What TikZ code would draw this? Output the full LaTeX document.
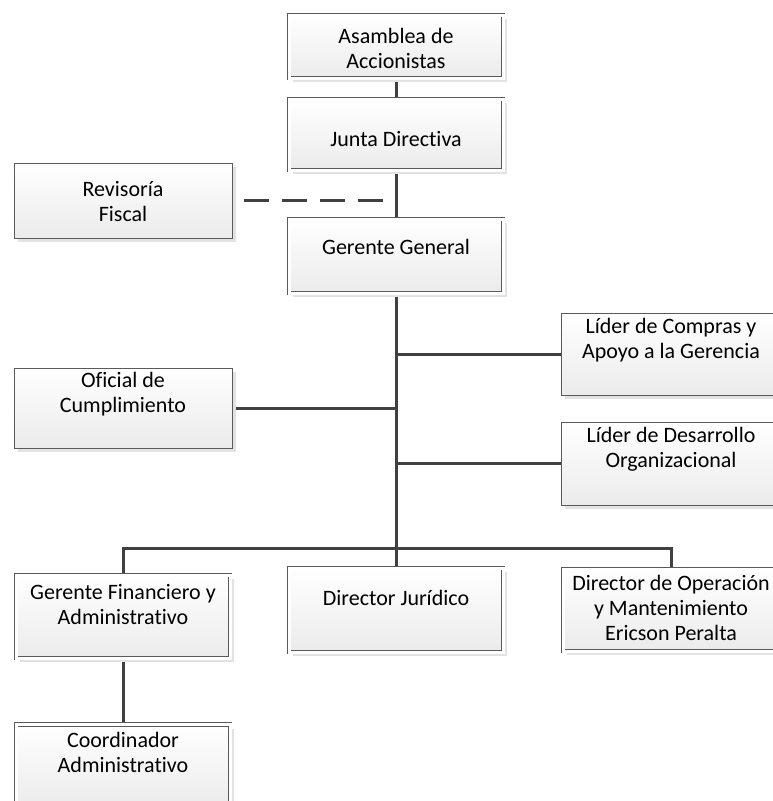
\documentclass[tikz,border=0pt]{standalone}
\usepackage{fontspec}
\setmainfont{Carlito}[Ligatures={NoCommon}]
\usetikzlibrary{positioning, shadows, backgrounds}
\definecolor{conn}{HTML}{404040}
\definecolor{rim}{HTML}{5A5A5A}
\definecolor{boxlo}{HTML}{EBEBEB}
\definecolor{shade}{HTML}{E2E2E2}

\begin{document}
\begin{tikzpicture}[x=1pt,y=-1pt,
  unit/.style={draw=rim,line width=0.8pt,top color=white,bottom color=boxlo,inner sep=0pt,
    minimum width=218pt,drop shadow={shadow xshift=4pt,shadow yshift=-4pt,fill=shade,opacity=1}},
  dunit/.style={unit,double=white,double distance=3pt,minimum width=214pt},
  lbl/.style={inner sep=0pt,align=center,font=\fontsize{22}{25}\selectfont,execute at begin node=\strut},
  link/.style={draw=conn,line width=3pt}]
  \useasboundingbox (0,0) rectangle (773,801);
  \node[dunit,minimum height=63pt] (asam) at (396,46.5) {};
  \node[dunit,minimum height=71pt] (junta) at (396,134.5) {};
  \node[unit,minimum height=75pt] (rev) at (123,200.5) {};
  \node[dunit,minimum height=74pt] (gg) at (396,256) {};
  \node[unit,minimum height=82pt,minimum width=220pt] (compras) at (671,354) {};
  \node[unit,minimum height=80pt] (ofic) at (123,408) {};
  \node[unit,minimum height=83pt,minimum width=220pt] (desa) at (671,463.5) {};
  \node[dunit,minimum height=83pt] (gf) at (123,616.5) {};
  \node[dunit,minimum height=84pt] (dj) at (396,610) {};
  \node[dunit,minimum height=82pt,minimum width=216pt] (dop) at (671,610) {};
  \node[dunit,minimum height=83pt] (coord) at (123,766) {};
  \node[lbl,below=13pt of asam.north] (asamt) {Asamblea de\\Accionistas};
  \node[lbl,below=30pt of junta.north] (juntat) {Junta Directiva};
  \node[lbl,below=19pt of rev.north] (revt) {Revisoría\\Fiscal};
  \node[lbl,below=18pt of gg.north] (ggt) {Gerente General};
  \node[lbl,below=5pt of compras.north] (comprast) {Líder de Compras y\\Apoyo a la Gerencia};
  \node[lbl,below=4pt of ofic.north] (ofict) {Oficial de\\Cumplimiento};
  \node[lbl,below=5pt of desa.north] (desat) {Líder de Desarrollo\\Organizacional};
  \node[lbl,below=10pt of gf.north] (gft) {Gerente Financiero y\\Administrativo};
  \node[lbl,below=20pt of dj.north] (djt) {Director Jurídico};
  \node[lbl,below=6pt of dop.north] (dopt) {Director de Operación\\y Mantenimiento\\Ericson Peralta};
  \node[lbl,below=8pt of coord.north] (coordt) {Coordinador\\Administrativo};
  \coordinate (bus) at (396,548);
  \begin{scope}[on background layer]
    \draw[link] (asam) -- (junta);
    \draw[link] (junta) -- (gg);
    \draw[link] (gg) -- (dj);
    \draw[link] (compras.west) -- (compras.west -| gg.south);
    \draw[link] (ofic.east) -- (ofic.east -| gg.south);
    \draw[link] (desa.west) -- (desa.west -| gg.south);
    \draw[link] (gf.north) |- (bus) -| (dop.north);
    \draw[link] (gf) -- (coord);
    \draw[link,dash pattern=on 25pt off 13pt,shorten <=12pt,shorten >=13pt] (rev.east) -- (rev.east -| junta.south);
  \end{scope}
\end{tikzpicture}
\end{document}
